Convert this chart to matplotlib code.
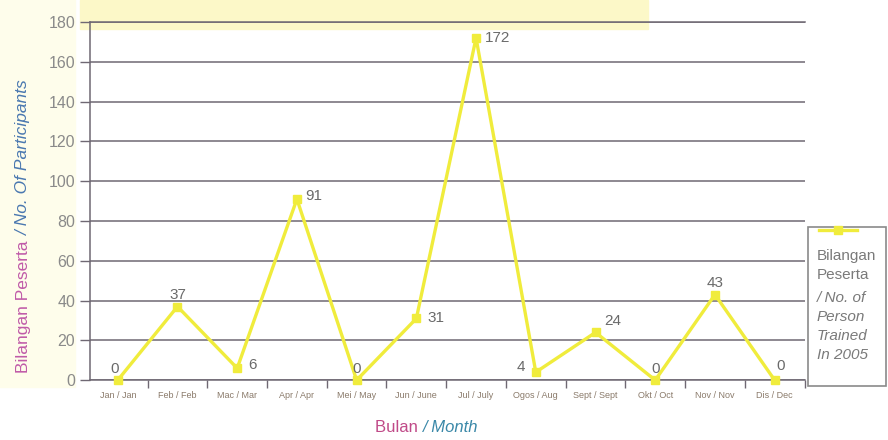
import matplotlib
matplotlib.use("Agg")
import matplotlib.pyplot as plt
from matplotlib import font_manager
from matplotlib.patches import Rectangle
from matplotlib.lines import Line2D

# data
months = ["Jan / Jan", "Feb / Feb", "Mac / Mar", "Apr / Apr", "Mei / May", "Jun / June",
          "Jul / July", "Ogos / Aug", "Sept / Sept", "Okt / Oct", "Nov / Nov", "Dis / Dec"]
participants = [0, 37, 6, 91, 0, 31, 172, 4, 24, 0, 43, 0]
yticks = list(range(0, 181, 20))

# label offsets in points (dx, dy, ha)
label_pos = [(-2, 8, "center"), (0, 8, "center"), (8, 2, "left"), (6, 2, "left"),
             (0, 8, "center"), (8, 0, "left"), (6, 0, "left"), (-8, 4, "right"),
             (6, 8, "left"), (0, 8, "center"), (0, 8, "center"), (4, 10, "center")]

names = {f.name for f in font_manager.fontManager.ttflist}
base = "Liberation Sans Narrow" if "Liberation Sans Narrow" in names else "Liberation Sans"
plt.rcParams["font.family"] = [base, "DejaVu Sans"]

LINE = "#f0ec3c"
GRID = "#6f6873"
TXT = "#6a6a6a"

fig = plt.figure(figsize=(8.88, 4.4), dpi=100)

# pale yellow highlighter marks of the scan
fig.add_artist(Rectangle((0.09, 0.935), 0.64, 0.065, transform=fig.transFigure,
                         color="#fcf8c8", zorder=0))
fig.add_artist(Rectangle((0.0, 0.12), 0.085, 0.88, transform=fig.transFigure,
                         color="#fefdeb", zorder=0))

ax = fig.add_axes([0.101, 0.136, 0.805, 0.814])
ax.patch.set_alpha(0)
x = list(range(len(months)))
ax.plot(x, participants, color=LINE, lw=2.4, marker="s", ms=6, mfc=LINE, mec=LINE,
        zorder=3, clip_on=False)

for xi, v, (dx, dy, ha) in zip(x, participants, label_pos):
    ax.annotate(str(v), (xi, v), xytext=(dx, dy), textcoords="offset points",
                ha=ha, va="center", fontsize=11, color=TXT)

ax.set_ylim(0, 180)
ax.set_xlim(-0.47, 11.5)
ax.set_yticks(yticks)
ax.yaxis.grid(True, color=GRID, lw=1.1)
ax.set_axisbelow(True)
ax.tick_params(axis="y", labelsize=11.5, labelcolor="#8a8a8a", color=GRID, length=7, width=1)
ax.set_xticks(x)
ax.set_xticklabels(months, fontsize=6.5, color="#8a7a6a")
ax.set_xticks([i + 0.5 for i in x], minor=True)
ax.tick_params(axis="x", which="major", length=0, pad=8)
ax.tick_params(axis="x", which="minor", length=6, color=GRID, width=1)

for s in ["left", "bottom", "top"]:
    ax.spines[s].set_color(GRID)
    ax.spines[s].set_linewidth(1.1)
ax.spines["right"].set_visible(False)

# two-colour axis titles
fig.text(0.027, 0.465, "Bilangan Peserta ", rotation=90, ha="center", va="top",
         fontsize=12.5, color="#c05aa8")
fig.text(0.027, 0.465, "/ No. Of Participants", rotation=90, ha="center", va="bottom",
         fontsize=12.5, color="#4a78b0", style="italic")
fig.text(0.476, 0.028, "Bulan ", ha="right", va="center", fontsize=12, color="#c04a88")
fig.text(0.476, 0.028, "/ Month", ha="left", va="center", fontsize=12, color="#3a88a8",
         style="italic")

# legend box drawn by hand: marker on top, text below
fig.add_artist(Rectangle((0.910, 0.122), 0.088, 0.361, transform=fig.transFigure,
                         fill=False, ec="#8a8a8a", lw=1.2))
fig.add_artist(Line2D([0.922, 0.965], [0.478, 0.478], transform=fig.transFigure,
                      color=LINE, lw=2.4))
fig.add_artist(Line2D([0.9435], [0.478], transform=fig.transFigure,
                      color=LINE, marker="s", ms=6, ls="none"))
fig.text(0.920, 0.435, "Bilangan\nPeserta", ha="left", va="top", fontsize=11,
         color="#7a7a7a", linespacing=1.45)
fig.text(0.920, 0.339, "/ No. of\nPerson\nTrained\nIn 2005", ha="left", va="top",
         fontsize=11, color="#7a7a7a", style="italic", linespacing=1.45)

fig.savefig("out.png", dpi=100)
